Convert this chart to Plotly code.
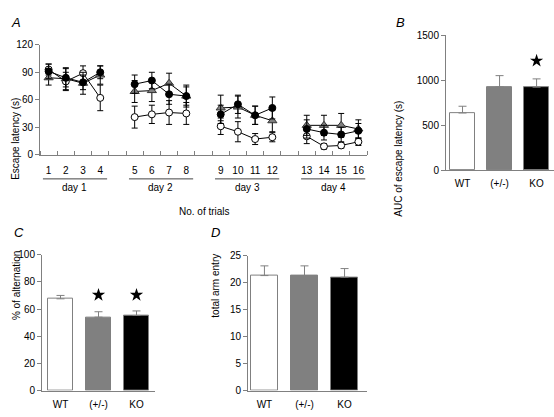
import plotly.graph_objects as go

# ---------------- data ----------------
trial_labels = [str(i) for i in range(1, 17)]
trial_pos = [1, 2, 3, 4, 6, 7, 8, 9, 11, 12, 13, 14, 16, 17, 18, 19]
day_labels = ["day 1", "day 2", "day 3", "day 4"]

wt_lat = [93, 80, 89, 62, 41, 44, 46, 45, 31, 25, 17, 19, 20, 9, 10, 14]
wt_err = [6, 10, 8, 14, 12, 10, 13, 12, 9, 11, 6, 5, 8, 3, 3, 4]
het_lat = [84, 83, 78, 87, 69, 70, 78, 64, 51, 52, 43, 37, 32, 32, 32, 28]
het_err = [8, 12, 12, 10, 12, 12, 11, 12, 14, 12, 10, 12, 11, 11, 13, 10]
ko_lat = [91, 84, 79, 90, 77, 81, 66, 64, 44, 55, 43, 51, 28, 24, 22, 26]
ko_err = [8, 10, 8, 7, 10, 9, 11, 10, 10, 10, 10, 12, 10, 8, 8, 8]

groups = ["WT", "(+/-)", "KO"]
bar_colors = ["#ffffff", "#808080", "#000000"]
auc = [635, 925, 922]
auc_err = [75, 125, 92]
alternation = [67.5, 54, 55.3]
alternation_err = [2.5, 4, 3.3]
arm_entry = [21.3, 21.3, 21.0]
arm_entry_err = [1.8, 1.8, 1.6]

auc_star_idx, auc_star_y = [2], [1215]
alt_star_idx, alt_star_y = [1, 2], [70.3, 70.3]

W, H = 554, 417
FONT = "Liberation Sans, Arial, sans-serif"
AX = "#808080"
FS = 10


def px(x):
    return x / W


def py(y):
    return 1 - y / H


fig = go.Figure()

# ---------------- panel A ----------------
series = [
    ("WT", wt_lat, wt_err, dict(symbol="circle", color="white", size=7, line=dict(color="black", width=1))),
    ("(+/-)", het_lat, het_err, dict(symbol="triangle-up", color="#808080", size=8, line=dict(color="#333333", width=1))),
    ("KO", ko_lat, ko_err, dict(symbol="circle", color="black", size=7, line=dict(color="black", width=1))),
]
for name, vals, errs, mk in series:
    for d in range(4):
        sl = slice(d * 4, d * 4 + 4)
        fig.add_trace(go.Scatter(
            x=trial_pos[sl], y=vals[sl], mode="lines+markers",
            line=dict(color="black", width=1), marker=mk,
            error_y=dict(type="data", array=errs[sl], color="black", thickness=1, width=3),
            xaxis="x", yaxis="y", showlegend=False, name=name, cliponaxis=False))

# day underline + labels
for d in range(4):
    first, last = trial_pos[d * 4], trial_pos[d * 4 + 3]
    fig.add_shape(type="line", xref="x", yref="paper", x0=first - 0.33, x1=last + 0.4,
                  y0=py(178), y1=py(178), line=dict(color="#444444", width=1))
    fig.add_annotation(x=(first + last) / 2 + 0.03, y=py(187), xref="x", yref="paper",
                       text=day_labels[d], showarrow=False, font=dict(size=FS, family=FONT, color="black"),
                       yanchor="middle")

fig.add_annotation(x=(px(40) + px(367)) / 2 + 0.002, y=py(212), xref="paper", yref="paper",
                   text="No. of trials", showarrow=False, font=dict(size=FS, family=FONT, color="black"))
fig.add_annotation(x=px(8), y=py(93), xref="paper", yref="paper", text="Escape latency (s)",
                   textangle=-90, showarrow=False, font=dict(size=FS, family=FONT, color="black"))

# ---------------- bar panels ----------------
def bar_panel(xa, ya, vals, errs, width):
    fig.add_trace(go.Bar(
        x=[0, 1, 2], y=vals, width=width,
        marker=dict(color=bar_colors, line=dict(color=AX, width=1)),
        error_y=dict(type="data", array=errs, arrayminus=[0, 0, 0], symmetric=False,
                     color=AX, thickness=1, width=4),
        xaxis=xa, yaxis=ya, showlegend=False))


bar_panel("x2", "y2", auc, auc_err, 0.68)
bar_panel("x3", "y3", alternation, alternation_err, 0.66)
bar_panel("x4", "y4", arm_entry, arm_entry_err, 0.68)

fig.add_trace(go.Scatter(x=auc_star_idx, y=auc_star_y, mode="markers",
                         marker=dict(symbol="star", size=10, color="black"),
                         xaxis="x2", yaxis="y2", showlegend=False))
fig.add_trace(go.Scatter(x=alt_star_idx, y=alt_star_y, mode="markers",
                         marker=dict(symbol="star", size=10, color="black"),
                         xaxis="x3", yaxis="y3", showlegend=False))

for txt, x, y in [("AUC of escape latency (s)", 406, 96), ("% of alternation", 9, 326),
                  ("total arm entry", 216, 323)]:
    fig.add_annotation(x=px(x), y=py(y), xref="paper", yref="paper", text=txt, textangle=-90,
                       showarrow=False, font=dict(size=FS, family=FONT, color="black"))

for lab, x, y in [("A", 9, 7), ("B", 407, 7), ("C", 12, 233), ("D", 215, 233)]:
    fig.add_annotation(x=px(x), y=py(y), xref="paper", yref="paper", text="<i>%s</i>" % lab,
                       showarrow=False, font=dict(size=13, family=FONT, color="black"))

tickfont = dict(size=FS, family=FONT, color="black")
common_y = dict(showline=True, linecolor=AX, linewidth=1, ticks="outside", ticklen=4,
                tickcolor=AX, showgrid=False, zeroline=False, tickfont=tickfont, fixedrange=True)
common_xbar = dict(showline=True, linecolor=AX, linewidth=1, ticks="", showgrid=False,
                   zeroline=False, tickfont=tickfont, tickmode="array", tickvals=[0, 1, 2],
                   ticktext=groups, ticklabelstandoff=4)

fig.update_layout(
    width=W, height=H, margin=dict(l=0, r=0, t=0, b=0), autosize=False,
    paper_bgcolor="white", plot_bgcolor="white", bargap=0,
    font=dict(family=FONT, size=FS, color="black"),
    xaxis=dict(domain=[px(40), px(367)], range=[0.5, 19.5], anchor="y",
               showline=True, linecolor=AX, linewidth=1, showgrid=False, zeroline=False,
               tickmode="array", tickvals=trial_pos, ticktext=trial_labels, ticks="",
               tickfont=tickfont, ticklabelstandoff=6,
               minor=dict(tick0=0.5, dtick=1, ticks="inside", ticklen=4, tickcolor=AX, showgrid=False)),
    yaxis=dict(domain=[py(153), py(40)], range=[0, 120], anchor="x", tickvals=[0, 30, 60, 90, 120],
               **common_y),
    xaxis2=dict(domain=[px(446), 1.0], range=[-0.446, 2.47], anchor="y2", **common_xbar),
    yaxis2=dict(domain=[py(169), py(30)], range=[0, 1500], anchor="x2", tickvals=[0, 500, 1000, 1500],
                **common_y),
    xaxis3=dict(domain=[px(42), px(155)], range=[-0.487, 2.487], anchor="y3", **common_xbar),
    yaxis3=dict(domain=[py(396), py(256)], range=[0, 100], anchor="x3", tickvals=[0, 20, 40, 60, 80, 100],
                **common_y),
    xaxis4=dict(domain=[px(248), px(367)], range=[-0.41, 2.56], anchor="y4", **common_xbar),
    yaxis4=dict(domain=[py(396), py(257)], range=[0, 25], anchor="x4", tickvals=[0, 5, 10, 15, 20, 25],
                **common_y),
)

fig.write_html(
    "out.html",
    config={"displayModeBar": False},
    post_script="document.body.style.margin='0';document.body.style.overflow='hidden';",
)
